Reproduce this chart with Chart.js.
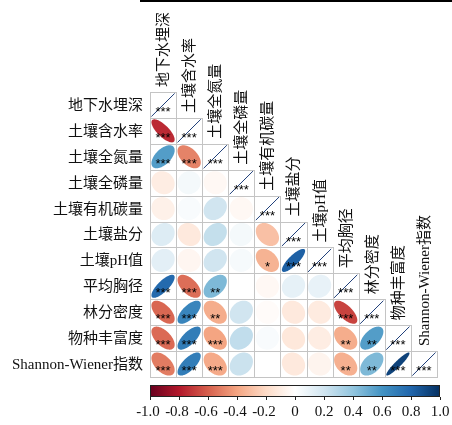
<!DOCTYPE html>
<html>
<head>
<meta charset="utf-8">
<script src="https://cdn.jsdelivr.net/npm/chart.js@4/dist/chart.umd.min.js"></script>
<style>
  html, body { margin: 0; padding: 0; background: #fff; }
  #wrap { width: 452px; height: 425px; position: relative; }
</style>
</head>
<body>
<div id="wrap"><canvas id="c" width="452" height="425"></canvas></div>
<script>
// Variables (row order = column order)
const variables = ['地下水埋深', '土壤含水率', '土壤全氮量', '土壤全磷量', '土壤有机碳量',
  '土壤盐分', '土壤pH值', '平均胸径', '林分密度', '物种丰富度', 'Shannon-Wiener指数'];

// Lower-triangle Pearson correlations, one row per variable (last entry = diagonal)
const rowGroundwater = [1];
const rowMoisture    = [-0.75, 1];
const rowTotalN      = [0.56, -0.50, 1];
const rowTotalP      = [-0.10, 0.05, -0.04, 1];
const rowOrganicC    = [-0.08, 0.03, 0.20, -0.04, 1];
const rowSalinity    = [0.15, -0.12, 0.24, 0.05, -0.30, 1];
const rowPH          = [0.12, -0.05, 0.20, 0.04, -0.35, 0.82, 1];
const rowDBH         = [0.78, -0.56, 0.45, 0.00, -0.04, 0.11, 0.10, 1];
const rowDensity     = [-0.58, 0.66, -0.37, 0.20, -0.02, -0.12, -0.11, -0.68, 1];
const rowRichness    = [-0.57, 0.70, -0.40, 0.25, 0.03, -0.13, -0.10, -0.37, 0.56, 1];
const rowShannon     = [-0.52, 0.70, -0.38, 0.22, 0.00, -0.12, -0.06, -0.36, 0.45, 0.93, 1];
const corrRows = [rowGroundwater, rowMoisture, rowTotalN, rowTotalP, rowOrganicC,
  rowSalinity, rowPH, rowDBH, rowDensity, rowRichness, rowShannon];

// Significance marks, same layout as the correlation rows
const sigRows = [
  ['***'],
  ['***', '***'],
  ['***', '***', '***'],
  ['', '', '', '***'],
  ['', '', '', '', '***'],
  ['', '', '', '', '', '***'],
  ['', '', '', '', '*', '***', '***'],
  ['***', '***', '**', '', '', '', '', '***'],
  ['***', '***', '**', '', '', '', '', '***', '***'],
  ['***', '***', '***', '', '', '', '', '**', '**', '***'],
  ['***', '***', '***', '', '', '', '', '**', '**', '***', '***']
];

// Colour legend ticks
const legendTicks = [-1, -0.8, -0.6, -0.4, -0.2, 0, 0.2, 0.4, 0.6, 0.8, 1];
const legendTickLabels = ['-1.0', '-0.8', '-0.6', '-0.4', '-0.2', '0', '0.2', '0.4', '0.6', '0.8', '1.0'];

// RdBu diverging palette, from -1 to 1
const rdbu = ['#67001F', '#B2182B', '#D6604D', '#F4A582', '#FDDBC7', '#FFFFFF',
  '#D1E5F0', '#92C5DE', '#4393C3', '#2166AC', '#053061'];

function hexToRgb(h) {
  return [parseInt(h.slice(1, 3), 16), parseInt(h.slice(3, 5), 16), parseInt(h.slice(5, 7), 16)];
}
function corrColor(r) {
  const t = (Math.max(-1, Math.min(1, r)) + 1) / 2 * (rdbu.length - 1);
  const i = Math.min(rdbu.length - 2, Math.floor(t));
  const f = t - i;
  const a = hexToRgb(rdbu[i]), b = hexToRgb(rdbu[i + 1]);
  const c = a.map((v, k) => Math.round(v + (b[k] - v) * f));
  return `rgb(${c[0]},${c[1]},${c[2]})`;
}

// One point per lower-triangle cell
const cells = [];
corrRows.forEach((row, i) => {
  row.forEach((r, j) => {
    cells.push({ x: j + 1, y: i + 1, r: r, sig: sigRows[i][j] });
  });
});

const n = variables.length;
const labelFont = "15px 'Liberation Serif', 'Noto Sans CJK SC'";

const corrPlugin = {
  id: 'corrEllipses',
  beforeDatasetsDraw(chart) {
    const { ctx, scales: { x, y } } = chart;
    ctx.save();
    ctx.strokeStyle = '#C4C4C4';
    ctx.lineWidth = 1;
    cells.forEach(c => {
      const x0 = Math.round(x.getPixelForValue(c.x - 0.5)) + 0.5;
      const x1 = Math.round(x.getPixelForValue(c.x + 0.5)) + 0.5;
      const y0 = Math.round(y.getPixelForValue(c.y - 0.5)) + 0.5;
      const y1 = Math.round(y.getPixelForValue(c.y + 0.5)) + 0.5;
      ctx.strokeRect(x0, y0, x1 - x0, y1 - y0);
    });
    ctx.restore();
  },
  afterDatasetsDraw(chart) {
    const { ctx, scales: { x, y } } = chart;
    const meta = chart.getDatasetMeta(0);
    const cw = Math.abs(x.getPixelForValue(2) - x.getPixelForValue(1));
    const ch = Math.abs(y.getPixelForValue(2) - y.getPixelForValue(1));
    ctx.save();
    meta.data.forEach((pt, k) => {
      const c = cells[k];
      const cx = pt.x, cy = pt.y;
      const ax = cw * 0.445, ay = ch * 0.445;
      const d = Math.acos(Math.max(-1, Math.min(1, c.r)));
      const col = corrColor(c.r);
      if (Math.abs(c.r) >= 0.999) {
        ctx.strokeStyle = '#1F3F7A';
        ctx.lineWidth = 1;
        ctx.beginPath();
        ctx.moveTo(cx - ax, cy + ay);
        ctx.lineTo(cx + ax, cy - ay);
        ctx.stroke();
      } else {
        ctx.fillStyle = col;
        ctx.beginPath();
        for (let s = 0; s <= 120; s++) {
          const t = s / 120 * Math.PI * 2;
          const px = cx + ax * Math.cos(t + d / 2);
          const py = cy - ay * Math.cos(t - d / 2);
          if (s === 0) ctx.moveTo(px, py); else ctx.lineTo(px, py);
        }
        ctx.closePath();
        ctx.fill();
      }
      if (c.sig) {
        ctx.fillStyle = '#000';
        ctx.font = "13px 'Liberation Sans'";
        ctx.textAlign = 'center';
        ctx.textBaseline = 'alphabetic';
        ctx.fillText(c.sig, cx, cy + 11);
      }
    });
    ctx.restore();
  },
  afterDraw(chart) {
    const { ctx, scales: { x, y } } = chart;
    ctx.save();
    // rule across the top
    ctx.fillStyle = '#000';
    ctx.fillRect(140, 0, 312, 2);

    ctx.fillStyle = '#111';
    ctx.font = labelFont;
    // row labels
    ctx.textAlign = 'right';
    ctx.textBaseline = 'middle';
    variables.forEach((v, i) => {
      ctx.fillText(v, x.getPixelForValue(0.5) - 7, y.getPixelForValue(i + 1) + 1);
    });
    // column labels, standing above the diagonal cells
    variables.forEach((v, j) => {
      const px = x.getPixelForValue(j + 1) + 1;
      const py = y.getPixelForValue(j + 0.5) - 5;
      ctx.save();
      ctx.translate(px, py);
      ctx.rotate(-Math.PI / 2);
      ctx.textAlign = 'left';
      ctx.textBaseline = 'middle';
      ctx.fillText(v, 0, 0);
      ctx.restore();
    });

    // colour legend
    const lx0 = 150, lx1 = 440, ly0 = 385, ly1 = 397;
    const g = ctx.createLinearGradient(lx0, 0, lx1, 0);
    rdbu.forEach((c, k) => g.addColorStop(k / (rdbu.length - 1), c));
    ctx.fillStyle = g;
    ctx.fillRect(lx0, ly0, lx1 - lx0, ly1 - ly0);
    ctx.strokeStyle = '#222';
    ctx.lineWidth = 1;
    ctx.strokeRect(lx0 + 0.5, ly0 + 0.5, lx1 - lx0 - 1, ly1 - ly0 - 1);
    ctx.font = "15px 'Liberation Serif'";
    ctx.fillStyle = '#111';
    ctx.textAlign = 'center';
    ctx.textBaseline = 'middle';
    legendTicks.forEach((t, k) => {
      const px = lx0 + (t + 1) / 2 * (lx1 - lx0);
      ctx.beginPath();
      ctx.moveTo(Math.round(px) + 0.5, ly1);
      ctx.lineTo(Math.round(px) + 0.5, ly1 + 3);
      ctx.stroke();
      const lab = legendTickLabels[k];
      const off = lab.startsWith('-') ? -2 : 0;
      ctx.fillText(lab, px + off, 412);
    });
    ctx.restore();
  }
};

new Chart(document.getElementById('c'), {
  type: 'scatter',
  data: {
    datasets: [{
      data: cells,
      pointRadius: 0,
      pointHoverRadius: 0,
      backgroundColor: 'rgba(0,0,0,0)',
      borderColor: 'rgba(0,0,0,0)'
    }]
  },
  options: {
    responsive: false,
    animation: false,
    events: [],
    layout: { padding: { left: 150, top: 92, right: 15, bottom: 48 } },
    plugins: { legend: { display: false }, tooltip: { enabled: false } },
    scales: {
      x: { type: 'linear', min: 0.5, max: n + 0.5, display: false },
      y: { type: 'linear', min: 0.5, max: n + 0.5, reverse: true, display: false }
    }
  },
  plugins: [corrPlugin]
});
</script>
</body>
</html>
